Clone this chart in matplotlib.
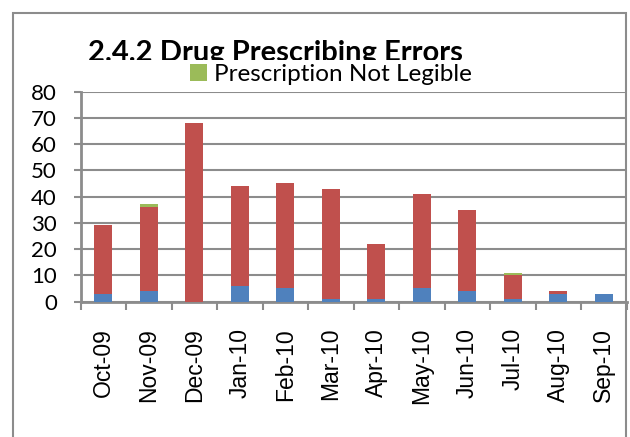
import numpy as np
import matplotlib
matplotlib.use("Agg")
import matplotlib.pyplot as plt
from matplotlib.patches import Rectangle
from matplotlib.transforms import Bbox, TransformedBbox

months = ["Oct-09", "Nov-09", "Dec-09", "Jan-10", "Feb-10", "Mar-10",
          "Apr-10", "May-10", "Jun-10", "Jul-10", "Aug-10", "Sep-10"]
blue_vals = [3, 4, 0, 6, 5, 1, 1, 5, 4, 1, 3, 3]
red_vals = [26, 32, 68, 38, 40, 42, 21, 36, 31, 9, 1, 0]
not_legible = [0, 1, 0, 0, 0, 0, 0, 0, 0, 1, 0, 0]
yticks = [0, 10, 20, 30, 40, 50, 60, 70, 80]

grey = "#8c8c8c"

fig = plt.figure(figsize=(6.3, 4.37), dpi=100)
W, H = 630.0, 437.0
ax = fig.add_axes([80.5 / W, 1 - 301.5 / H, 546 / W, 209.8 / H])

x = np.arange(len(months))
bw = 0.4
ax.bar(x, blue_vals, bw, color="#4f81bd", linewidth=0, zorder=3)
ax.bar(x, red_vals, bw, bottom=blue_vals, color="#c0504d", linewidth=0, zorder=3)
bottom2 = np.array(blue_vals) + np.array(red_vals)
ax.bar(x, not_legible, bw, bottom=bottom2, color="#9bbb59", linewidth=0,
       zorder=3, label="Prescription Not Legible")

ax.set_xlim(-0.5, len(months) - 0.5)
ax.set_ylim(0, 80)
ax.set_yticks(yticks)
ax.set_yticklabels([str(v) for v in yticks], fontsize=16, family="Lato")
ax.yaxis.grid(True, color=grey, linewidth=1.5, zorder=0)
ax.tick_params(axis="y", length=5, width=1.5, color=grey, pad=12)

ax.set_xticks(x)
ax.set_xticklabels(months, rotation=90, fontsize=16.5, family="Liberation Sans")
ax.set_xticks(np.arange(len(months) + 1) - 0.5, minor=True)
ax.tick_params(axis="x", which="major", length=0, pad=19)
ax.tick_params(axis="x", which="minor", length=6, width=1.5, color=grey)

for s in ["top", "right"]:
    ax.spines[s].set_visible(False)
for s in ["left", "bottom"]:
    ax.spines[s].set_color(grey)
    ax.spines[s].set_linewidth(2)
ax.set_axisbelow(True)

# chart border
fig.patches.append(Rectangle((12.5 / W, -0.05), 613.5 / W, 1 - 12.5 / H + 0.05,
                             transform=fig.transFigure, fill=False,
                             edgecolor=grey, linewidth=1.5, zorder=0))

# title, cut off at the bottom like in the source
title = fig.text(275 / W, 1 - 61 / H, "2.4.2 Drug Prescribing Errors", ha="center",
                 va="baseline", fontsize=21, fontweight="bold", family="Lato")
title.set_clip_box(TransformedBbox(Bbox([[0, 1 - 59.5 / H], [1, 1]]), fig.transFigure))
title.set_clip_on(True)

handles, labels = ax.get_legend_handles_labels()
leg = fig.legend(handles, labels, loc="upper center",
                 bbox_to_anchor=(331 / W, 1 - 51 / H), frameon=False,
                 borderpad=0.05, handlelength=0.7,
                 handleheight=0.7, handletextpad=0.3,
                 prop={"family": "Lato", "size": 17.5})

fig.savefig("out.png", dpi=100)
